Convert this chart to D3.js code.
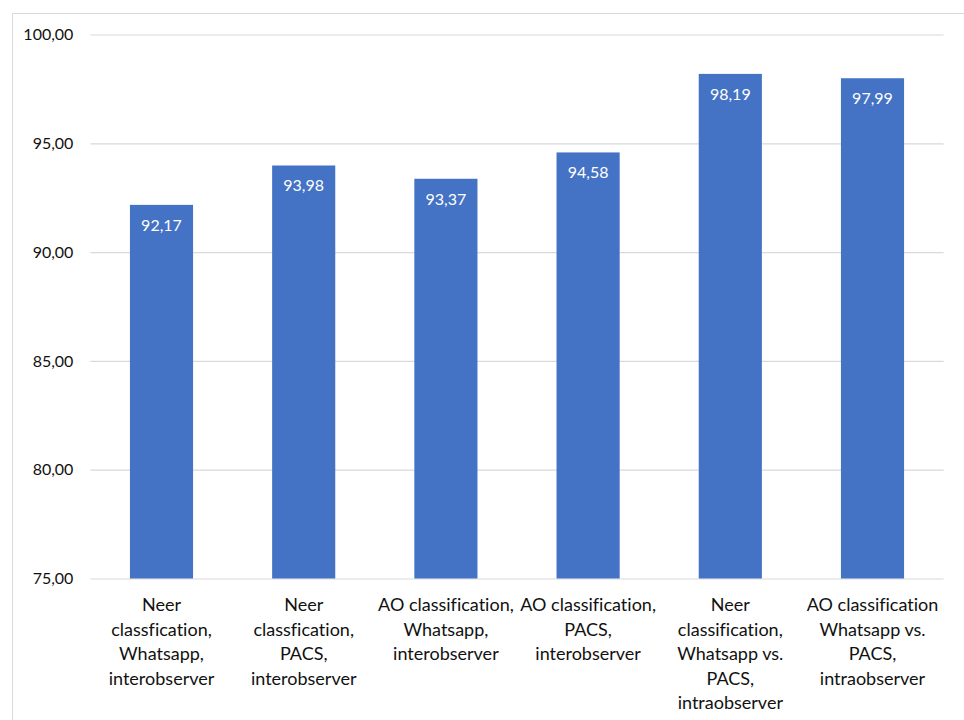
<!DOCTYPE html>
<html><head><meta charset="utf-8">
<script src="https://cdn.jsdelivr.net/npm/d3@7"></script>
<style>body{margin:0;background:#fff}svg{display:block}text{font-family:Lato,"Open Sans",sans-serif;font-variant-ligatures:none}</style>
</head><body>
<svg id="c" width="964" height="720"></svg>
<script>
const categories = [
  ["Neer", "classfication,", "Whatsapp,", "interobserver"],
  ["Neer", "classfication,", "PACS,", "interobserver"],
  ["AO classification,", "Whatsapp,", "interobserver"],
  ["AO classification,", "PACS,", "interobserver"],
  ["Neer", "classification,", "Whatsapp vs.", "PACS,", "intraobserver"],
  ["AO classification", "Whatsapp vs.", "PACS,", "intraobserver"]
];
const values = [92.17, 93.98, 93.37, 94.58, 98.19, 97.99];
const yTicks = [75, 80, 85, 90, 95, 100];

const svg = d3.select("#c");
const mLeft = 90.4, mRight = 943.6, mTop = 34.5, mBottom = 578.5;
const fmt = v => d3.format(".2f")(v).replace(".", ",");

svg.append("rect").attr("x", 12.5).attr("y", 13.5).attr("width", 980).attr("height", 740)
  .attr("fill", "none").attr("stroke", "#d9d9d9").attr("stroke-width", 1);

const x = d3.scaleBand().domain(d3.range(categories.length)).range([mLeft, mRight])
  .paddingInner(0.556).paddingOuter(0.278);
const y = d3.scaleLinear().domain([75, 100]).range([mBottom, mTop]);

const yAxis = svg.append("g").attr("transform", `translate(${mLeft},0)`)
  .call(d3.axisLeft(y).tickValues(yTicks).tickFormat(fmt).tickSize(-(mRight - mLeft)).tickPadding(17));
yAxis.select(".domain").remove();
yAxis.selectAll(".tick line").attr("stroke", "#d9d9d9").attr("stroke-width", 1.2);
yAxis.selectAll(".tick text").attr("font-size", 16).attr("fill", "#111")
  .style("font-family", "Lato, sans-serif");

svg.append("g").selectAll("rect").data(values).join("rect")
  .attr("x", (d, i) => x(i)).attr("width", x.bandwidth())
  .attr("y", d => y(d)).attr("height", d => y(75) - y(d))
  .attr("fill", "#4472c4");

svg.append("g").selectAll("text").data(values).join("text")
  .attr("x", (d, i) => x(i) + x.bandwidth() / 2).attr("y", d => y(d) + 26)
  .attr("text-anchor", "middle").attr("font-size", 16).attr("fill", "#fff")
  .text(d => fmt(d));

const xl = svg.append("g").selectAll("text").data(categories).join("text")
  .attr("text-anchor", "middle").attr("font-size", 18).attr("fill", "#111")
  .attr("transform", (d, i) => `translate(${x(i) + x.bandwidth() / 2},611)`);
xl.selectAll("tspan").data(d => d).join("tspan")
  .attr("x", 0).attr("y", (d, j) => j * 24.6).text(d => d);
</script>
</body></html>
